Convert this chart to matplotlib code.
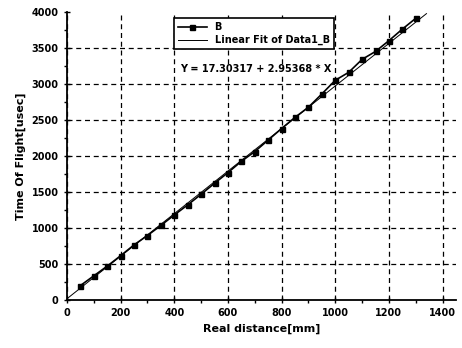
import matplotlib
matplotlib.use("Agg")
import matplotlib.pyplot as plt
from matplotlib.ticker import MultipleLocator

# measured points (Real distance [mm] vs time of flight [usec])
dist = [50, 100, 150, 200, 250, 300, 350, 400, 450, 500, 550, 600, 650,
        700, 750, 800, 850, 900, 950, 1000, 1050, 1100, 1150, 1200, 1250, 1300]
tof = [200, 335, 470, 615, 765, 895, 1035, 1180, 1320, 1468, 1620, 1768, 1925,
       2060, 2220, 2380, 2535, 2676, 2860, 3050, 3160, 3340, 3450, 3600, 3760, 3910]

# linear fit result shown on the chart
intercept = 17.30317
slope = 2.95368
fit_x = [0, 1340]
fit_y = [intercept + slope * v for v in fit_x]

yticks = [0, 500, 1000, 1500, 2000, 2500, 3000, 3500, 4000]

plt.rcParams["font.family"] = "DejaVu Sans"
plt.rcParams["font.weight"] = "bold"

fig = plt.figure(figsize=(4.62, 3.48), dpi=100)
ax = fig.add_axes([0.145, 0.138, 0.842, 0.828])

ax.plot(dist, tof, color="black", lw=1.2, marker="s", ms=3.6, label="B")
ax.plot(fit_x, fit_y, color="black", lw=0.7, label="Linear Fit of Data1_B")

ax.set_xlim(0, 1450)
ax.set_ylim(0, 4000)
ax.xaxis.set_major_locator(MultipleLocator(200))
ax.xaxis.set_minor_locator(MultipleLocator(100))
ax.set_yticks(yticks)
ax.yaxis.set_minor_locator(MultipleLocator(250))
ax.tick_params(which="major", direction="inout", length=5, width=1, labelsize=7)
ax.tick_params(which="minor", direction="out", length=2.5, width=1)
for lab in ax.get_xticklabels() + ax.get_yticklabels():
    lab.set_fontweight("bold")

dash = (0, (4, 3))
ax.grid(True, axis="x", which="major", color="black", linestyle=dash, lw=0.9)
# horizontal grid, none along the top edge
for v in yticks[1:-1]:
    ax.axhline(v, color="black", linestyle=dash, lw=0.9, zorder=0.5)

ax.spines["top"].set_visible(False)
ax.spines["right"].set_visible(False)
ax.spines["left"].set_linewidth(1.3)
ax.spines["bottom"].set_linewidth(1.3)

ax.set_xlabel("Real distance[mm]", fontsize=8, fontweight="bold")
ax.set_ylabel("Time Of Flight[usec]", fontsize=8, fontweight="bold")

leg = ax.legend(loc="upper left", bbox_to_anchor=(0.262, 0.995), fontsize=7,
                fancybox=False, edgecolor="black", framealpha=1,
                handlelength=3.0, borderpad=0.4, labelspacing=0.3)
leg.get_frame().set_linewidth(1.2)

ax.text(0.485, 0.80, "Y = 17.30317 + 2.95368 * X", transform=ax.transAxes,
        ha="center", va="center", fontsize=7, fontweight="bold",
        bbox=dict(facecolor="white", edgecolor="none", pad=0.5))

fig.savefig("out.png", dpi=100)
